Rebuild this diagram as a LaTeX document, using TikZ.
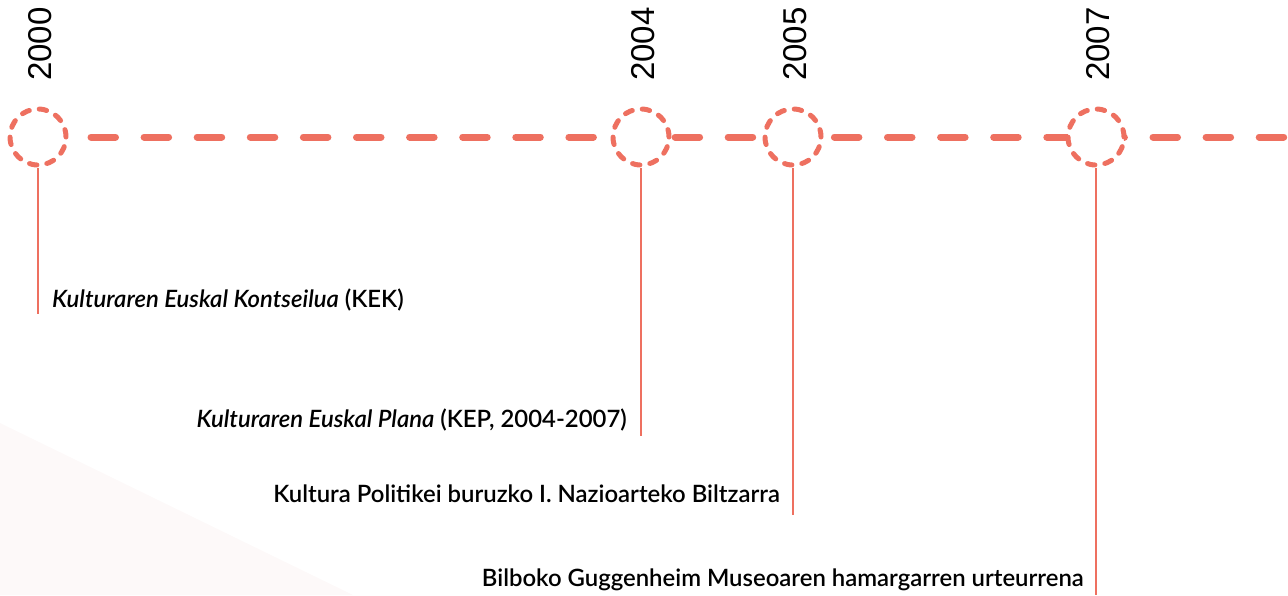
\documentclass[tikz,border=0pt]{standalone}
\usepackage{fontspec}
\usetikzlibrary{backgrounds}
\setmainfont{Lato}[UprightFont={* Semibold}, ItalicFont={* Semibold Italic}]
\newfontfamily\yearfont{Liberation Sans}
\definecolor{salmon}{RGB}{238,112,96}
\definecolor{bgpink}{RGB}{253,249,249}
\begin{document}
\begin{tikzpicture}[x=1pt,y=-1pt,
  yearcirc/.style={circle, draw=salmon, fill=white, line width=5pt, line cap=round, minimum size=56pt, inner sep=0pt, dash pattern=on 7.5pt off 10.1pt},
  mainline/.style={draw=salmon, line width=7pt, line cap=round, dash pattern=on 24.5pt off 28.6pt, dash phase=30.6pt},
  stem/.style={draw=salmon, line width=2.2pt},
  yearlbl/.style={rotate=90, font=\yearfont\fontsize{33}{36}\selectfont, inner sep=0pt},
  evlbl/.style={font=\fontsize{23.9}{26}\selectfont, inner sep=0pt}]
\useasboundingbox (0,0) rectangle (1288,595);
% circles
\node[yearcirc] (c0) at (38,137) {};
\node[yearcirc] (c4) at (641,137) {};
\node[yearcirc] (c5) at (793,137) {};
\node[yearcirc] (c7) at (1096,137) {};
\coordinate (lineend) at (1292,137);
\begin{scope}[on background layer]
\fill[bgpink] (0,423) -- (353,595) -- (0,595) -- cycle;
\draw[mainline] (c0.east) -- (lineend);
\end{scope}
% year labels
\node[yearlbl] (y0) at (40,44) {2000};
\node[yearlbl] (y4) at (643,44) {2004};
\node[yearlbl] (y5) at (795,44) {2005};
\node[yearlbl] (y7) at (1098,44) {2007};
% stems
\coordinate (e0) at (38,314);
\coordinate (e4) at (641,436);
\coordinate (e5) at (793,515);
\coordinate (e7) at (1096,595);
\draw[stem] (c0.south) -- (e0);
\draw[stem] (c4.south) -- (e4);
\draw[stem] (c5.south) -- (e5);
\draw[stem] (c7.south) -- (e7);
% event labels
\node[evlbl, anchor=west] (t0) at (52,300) {\textit{Kulturaren Euskal Kontseilua} (KEK)};
\node[evlbl, anchor=east] (t4) at (627,420) {\textit{Kulturaren Euskal Plana} (KEP, 2004-2007)};
\node[evlbl, anchor=east] (t5) at (780,494) {Kultura Politikei buruzko I. Nazioarteko Biltzarra};
\node[evlbl, anchor=east] (t7) at (1084,580) {Bilboko Guggenheim Museoaren hamargarren urteurrena};
\end{tikzpicture}
\end{document}
